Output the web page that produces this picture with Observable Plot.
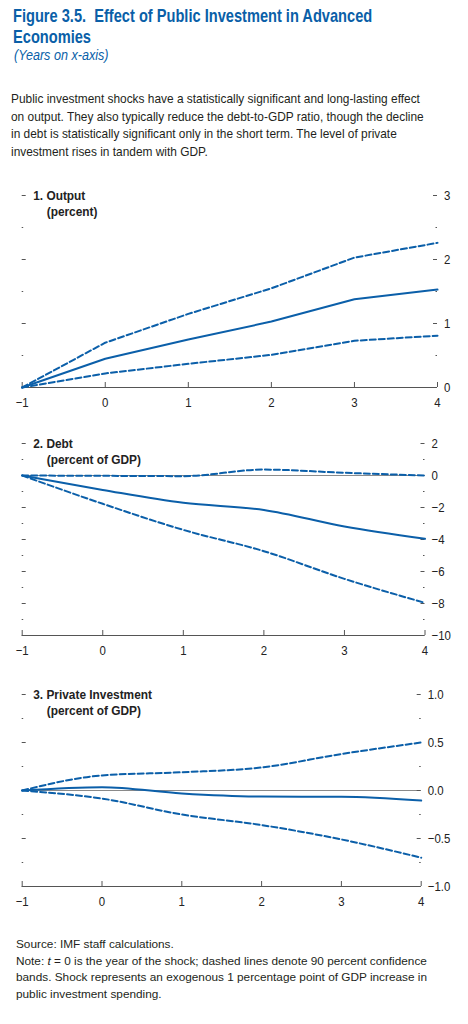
<!DOCTYPE html>
<html><head><meta charset="utf-8">
<script src="https://cdn.jsdelivr.net/npm/d3@7"></script>
<script src="https://cdn.jsdelivr.net/npm/@observablehq/plot@0.6"></script>
<style>
body{margin:0;background:#fff;}
#root{position:relative;width:468px;height:1024px;overflow:hidden;font-family:"Liberation Sans",Arial,sans-serif;}
.abs{position:absolute;white-space:nowrap;}
.cond{display:inline-block;transform-origin:0 0;}
#title{left:13px;top:4.5px;color:#0a5fa8;font-weight:bold;font-size:18.5px;line-height:21px;}
#title .cond{transform:scaleX(0.79);}
#sub{left:13.5px;top:46px;color:#0a5fa8;font-style:italic;font-size:14px;line-height:18px;}
#sub .cond{transform:scaleX(0.9);}
#desc{left:11px;top:91.3px;color:#231f20;font-size:11.9px;line-height:17.4px;}
#foot{left:16px;top:936px;color:#231f20;font-size:11.8px;line-height:16.7px;}
.panel{position:absolute;left:0;}
</style>
</head><body>
<div id="root">
  <div id="title" class="abs"><span class="cond">Figure 3.5.&nbsp; Effect of Public Investment in Advanced<br>Economies</span></div>
  <div id="sub" class="abs"><span class="cond">(Years on x-axis)</span></div>
  <div id="desc" class="abs">Public investment shocks have a statistically significant and long-lasting effect<br>on output. They also typically reduce the debt-to-GDP ratio, though the decline<br>in debt is statistically significant only in the short term. The level of private<br>investment rises in tandem with GDP.</div>
  <div id="p1" class="panel"></div>
  <div id="p2" class="panel"></div>
  <div id="p3" class="panel"></div>
  <div id="foot" class="abs">Source: IMF staff calculations.<br>Note: <i>t</i> = 0 is the year of the shock; dashed lines denote 90 percent confidence<br>bands. Shock represents an exogenous 1 percentage point of GDP increase in<br>public investment spending.</div>
</div>
<script>
// ---- data ----
const years = [-1, 0, 1, 2, 3, 4];

const outputMid = [0, 0.45, 0.75, 1.03, 1.38, 1.53];
const outputHi  = [0, 0.70, 1.15, 1.55, 2.03, 2.26];
const outputLo  = [0, 0.22, 0.37, 0.51, 0.73, 0.81];

const debtMid = [0, -0.90, -1.71, -2.15, -3.19, -3.96];
const debtHi  = [0, -0.02, -0.04, 0.37, 0.17, 0.00];
const debtLo  = [0, -1.77, -3.40, -4.73, -6.46, -7.96];

const invMid = [0, 0.035, -0.03, -0.063, -0.066, -0.105];
const invHi  = [0, 0.157, 0.19, 0.24, 0.38, 0.50];
const invLo  = [0, -0.084, -0.25, -0.36, -0.51, -0.70];

const outputMajor = [0, 1, 2, 3];
const outputMinor = [0.5, 1.5, 2.5];
const debtMajor = [2, 0, -2, -4, -6, -8, -10];
const debtMinor = [1, -1, -3, -5, -7, -9];
const invMajor = [1, 0.5, 0, -0.5, -1];
const invMinor = [0.75, 0.25, -0.25, -0.75];

const titles = [
  ["1. Output", "(percent)"],
  ["2. Debt", "(percent of GDP)"],
  ["3. Private Investment", "(percent of GDP)"]
];

// ---- drawing ----
const BLUE = "#0b5fa9";
const AXIS = "#555";
const FONT = '"Liberation Sans",Arial,sans-serif';
const SQUEEZE = 0.88;

function condense(svg, s) {
  svg.querySelectorAll("text").forEach(t => {
    const x = +(t.getAttribute("x") || 0);
    const tr = t.getAttribute("transform") || "";
    t.setAttribute("transform", `${tr} translate(${x},0) scale(${s},1) translate(${-x},0)`);
  });
}

function panel(el, top, {marginRight, yDomain, major, minor, fmt, zero, mid, hi, lo, title, curve}) {
  const W = 468, ML = 21.7, MT = 10, MB = 23, H = 225;
  const innerW = W - ML - marginRight, innerH = H - MT - MB;
  const rows = years.map((x, i) => ({x, mid: mid[i], hi: hi[i], lo: lo[i]}));
  const plot = Plot.plot({
    width: W, height: H,
    marginLeft: ML, marginRight, marginTop: MT, marginBottom: MB,
    x: {domain: [-1, 4]},
    y: {domain: yDomain},
    style: {fontFamily: FONT, fontSize: "13px", color: "#222", background: "transparent", overflow: "visible"},
    marks: [
      zero ? Plot.ruleY([0], {stroke: "#8a8a8a", strokeWidth: 1}) : null,
      Plot.ruleY([yDomain[0]], {stroke: AXIS, strokeWidth: 1}),
      Plot.ruleX(years, {x: d => d, insetTop: innerH - 5, stroke: AXIS}),
      Plot.ruleY(major, {y: d => d, insetRight: innerW - 4, stroke: AXIS}),
      Plot.ruleY(major, {y: d => d, insetLeft: innerW - 4, stroke: AXIS}),
      Plot.ruleY(minor, {y: d => d, insetRight: innerW - 1.5, stroke: AXIS}),
      Plot.ruleY(minor, {y: d => d, insetLeft: innerW - 1.5, stroke: AXIS}),
      Plot.axisX({ticks: years, tickSize: 0, tickPadding: 10, tickFormat: d3.format("d"), fontSize: 13, label: null}),
      Plot.axisY({anchor: "right", ticks: major, tickSize: 0, tickPadding: 6.5, tickFormat: fmt, fontSize: 13, label: null}),
      Plot.line(rows, {x: "x", y: "lo", stroke: BLUE, strokeWidth: 2, strokeDasharray: "6,3", curve}),
      Plot.line(rows, {x: "x", y: "hi", stroke: BLUE, strokeWidth: 2, strokeDasharray: "6,3", curve}),
      Plot.line(rows, {x: "x", y: "mid", stroke: BLUE, strokeWidth: 2, curve}),
      Plot.text([title[0]], {text: d => d, frameAnchor: "top-left", dx: 11, lineAnchor: "middle", textAnchor: "start", fontWeight: "bold", fontSize: 13.5, fill: "#222"}),
      Plot.text([title[1]], {text: d => d, frameAnchor: "top-left", dx: 24.5, dy: 16.5, lineAnchor: "middle", textAnchor: "start", fontWeight: "bold", fontSize: 13.5, fill: "#222"})
    ]
  });
  const host = document.getElementById(el);
  host.style.top = top + "px";
  host.appendChild(plot);
  condense(plot, SQUEEZE);
}

panel("p1", 185, {marginRight: 31, yDomain: [0, 3], major: outputMajor, minor: outputMinor,
  fmt: d3.format("d"), zero: false, mid: outputMid, hi: outputHi, lo: outputLo, title: titles[0], curve: "linear"});
panel("p2", 433.3, {marginRight: 43.5, yDomain: [-10, 2], major: debtMajor, minor: debtMinor,
  fmt: d3.format("d"), zero: true, mid: debtMid, hi: debtHi, lo: debtLo, title: titles[1], curve: "monotone-x"});
panel("p3", 684, {marginRight: 47.3, yDomain: [-1, 1], major: invMajor, minor: invMinor,
  fmt: d3.format(".1f"), zero: true, mid: invMid, hi: invHi, lo: invLo, title: titles[2], curve: "monotone-x"});
</script>
</body></html>
